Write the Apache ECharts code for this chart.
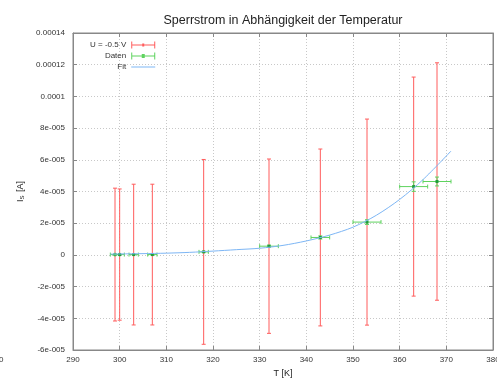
<!DOCTYPE html>
<html>
<head>
<meta charset="utf-8">
<script src="https://cdn.jsdelivr.net/npm/echarts@6/dist/echarts.min.js"></script>
<style>
  html, body { margin: 0; padding: 0; background: #fff; }
  #chart { width: 497px; height: 380px; }
</style>
</head>
<body>
<div id="chart"></div>
<script>
// Measurements: temperature T [K] and reverse current I_S [A]
var temps    = [299, 300, 303, 307, 318, 332, 343, 353, 363, 368];
var current  = [0.02e-5, 0.02e-5, 0.02e-5, 0.02e-5, 0.19e-5, 0.55e-5, 1.1e-5, 2.07e-5, 4.31e-5, 4.63e-5];
// error of the current at U = -0.5 V
var currentErrWide = [4.19e-5, 4.14e-5, 4.44e-5, 4.44e-5, 5.83e-5, 5.5e-5, 5.58e-5, 6.5e-5, 6.91e-5, 7.49e-5];
// temperature uncertainty and small current uncertainty of the "Daten" series
var tempErr  = [1, 1, 1, 1, 1, 2, 2, 3, 3, 3];
var currentErrSmall = [0.01e-5, 0.01e-5, 0.01e-5, 0.01e-5, 0.03e-5, 0.06e-5, 0.1e-5, 0.15e-5, 0.3e-5, 0.28e-5];

// Fit curve samples
var fitT = [298, 300, 305, 310, 315, 320, 325, 330, 335, 340, 345, 350, 355, 360, 365, 371];
var fitI = [0.05e-5, 0.06e-5, 0.08e-5, 0.11e-5, 0.16e-5, 0.24e-5, 0.33e-5, 0.42e-5, 0.6e-5, 0.88e-5, 1.25e-5, 1.75e-5, 2.5e-5, 3.5e-5, 4.75e-5, 6.55e-5];

// Axis tick labels
var yTickLabels = ['-6e-005', '-4e-005', '-2e-005', '0', '2e-005', '4e-005', '6e-005', '8e-005', '0.0001', '0.00012', '0.00014'];
var xTickLabels = ['290', '300', '310', '320', '330', '340', '350', '360', '370', '380'];

var Y_MIN = -6e-5, Y_MAX = 1.4e-4, Y_STEP = 2e-5;
var X_MIN = 290, X_MAX = 380, X_STEP = 10;

var RED = '#ff5c5c';
var GREEN = '#5fd35f';
var GREEN_DARK = '#1f9e3a';
var BLUE = '#7db6f5';
var FONT = '"Liberation Sans", Arial, sans-serif';

var redData = temps.map(function (t, i) { return [t, current[i], currentErrWide[i]]; });
var greenData = temps.map(function (t, i) { return [t, current[i], tempErr[i], currentErrSmall[i]]; });
var fitData = fitT.map(function (t, i) { return [t, fitI[i]]; });

function seg(x1, y1, x2, y2, color) {
  return { type: 'line', shape: { x1: x1, y1: y1, x2: x2, y2: y2 },
           style: { stroke: color, lineWidth: 1 } };
}

function renderYErr(params, api) {
  var x = api.value(0), y = api.value(1), e = api.value(2);
  var top = api.coord([x, y + e]);
  var bot = api.coord([x, y - e]);
  var c = api.coord([x, y]);
  var cap = 2;
  return { type: 'group', children: [
    seg(top[0], top[1], bot[0], bot[1], RED),
    seg(top[0] - cap, top[1], top[0] + cap, top[1], RED),
    seg(bot[0] - cap, bot[1], bot[0] + cap, bot[1], RED),
    { type: 'rect', shape: { x: c[0] - 1, y: c[1] - 1, width: 2, height: 2 }, style: { fill: RED } }
  ]};
}

function renderXYErr(params, api) {
  var x = api.value(0), y = api.value(1), ex = api.value(2), ey = api.value(3);
  var l = api.coord([x - ex, y]);
  var r = api.coord([x + ex, y]);
  var t = api.coord([x, y + ey]);
  var b = api.coord([x, y - ey]);
  var c = api.coord([x, y]);
  var cap = 2;
  return { type: 'group', children: [
    seg(l[0], l[1], r[0], r[1], GREEN),
    seg(l[0], l[1] - cap, l[0], l[1] + cap, GREEN),
    seg(r[0], r[1] - cap, r[0], r[1] + cap, GREEN),
    seg(t[0], t[1], b[0], b[1], GREEN),
    seg(t[0] - cap, t[1], t[0] + cap, t[1], GREEN),
    seg(b[0] - cap, b[1], b[0] + cap, b[1], GREEN),
    { type: 'rect', shape: { x: c[0] - 1.5, y: c[1] - 1.5, width: 3, height: 3 }, style: { fill: GREEN_DARK } }
  ]};
}

var chart = echarts.init(document.getElementById('chart'), null, { renderer: 'canvas' });

var axisLabelX = { fontFamily: FONT, fontSize: 8, color: '#333', margin: 6,
  formatter: function (v) { return xTickLabels[Math.round((v - X_MIN) / X_STEP)]; } };
var axisLabelY = { fontFamily: FONT, fontSize: 8, color: '#333', margin: 8,
  formatter: function (v) { return yTickLabels[Math.round((v - Y_MIN) / Y_STEP)]; } };

var option = {
  animation: false,
  backgroundColor: '#ffffff',
  title: {
    text: 'Sperrstrom in Abhängigkeit der Temperatur',
    left: 278, top: 9, textAlign: 'center',
    textStyle: { fontFamily: FONT, fontSize: 12.5, fontWeight: 'normal', color: '#222' }
  },
  legend: {
    orient: 'vertical', left: 85, top: 36, align: 'right',
    itemWidth: 24, itemHeight: 7, itemGap: 3,
    textStyle: { fontFamily: FONT, fontSize: 8, color: '#333', width: 60, align: 'right' },
    data: [
      { name: 'U = -0.5 V', icon: 'path://M0,3h24v1H0z M0,0h1v7H0z M23,0h1v7h-1z M11,2h2v3h-2z' },
      { name: 'Daten', icon: 'path://M0,3h24v1H0z M0,0h1v7H0z M23,0h1v7h-1z M10.5,1.5h3v4h-3z' },
      { name: 'Fit', icon: 'path://M0,3h24v1H0z' }
    ]
  },
  grid: { left: 73, right: 4, top: 33, bottom: 30, outerBoundsMode: 'none', containLabel: false,
          show: true, borderColor: '#888', borderWidth: 1, backgroundColor: 'transparent' },
  xAxis: [{
    type: 'value', min: X_MIN, max: X_MAX, interval: X_STEP, position: 'bottom',
    name: 'T [K]', nameLocation: 'middle', nameGap: 17,
    nameTextStyle: { fontFamily: FONT, fontSize: 9, color: '#222' },
    axisLine: { show: true, onZero: false, lineStyle: { color: '#888' } },
    axisTick: { show: true, inside: true, length: 4, lineStyle: { color: '#888' } },
    axisLabel: axisLabelX,
    splitLine: { show: true, lineStyle: { color: '#c8c8c8', type: [1, 2] } }
  }, {
    type: 'value', min: X_MIN, max: X_MAX, interval: X_STEP, position: 'top',
    axisLine: { show: true, onZero: false, lineStyle: { color: '#888' } },
    axisTick: { show: true, inside: true, length: 4, lineStyle: { color: '#888' } },
    axisLabel: { show: false }, splitLine: { show: false }
  }],
  yAxis: [{
    type: 'value', min: Y_MIN, max: Y_MAX, interval: Y_STEP, position: 'left',
    name: '{a|I}{s|S}{a| [A]}', nameLocation: 'middle', nameGap: 47,
    nameTextStyle: { fontFamily: FONT, color: '#222',
      rich: { a: { fontFamily: FONT, fontSize: 9, color: '#222' },
              s: { fontFamily: FONT, fontSize: 6, color: '#222', padding: [4, 1, 0, 0] } } },
    axisLine: { show: true, onZero: false, lineStyle: { color: '#888' } },
    axisTick: { show: true, inside: true, length: 4, lineStyle: { color: '#888' } },
    axisLabel: axisLabelY,
    splitLine: { show: true, lineStyle: { color: '#c8c8c8', type: [1, 2] } }
  }, {
    type: 'value', min: Y_MIN, max: Y_MAX, interval: Y_STEP, position: 'right',
    axisLine: { show: true, onZero: false, lineStyle: { color: '#888' } },
    axisTick: { show: true, inside: true, length: 4, lineStyle: { color: '#888' } },
    axisLabel: { show: false }, splitLine: { show: false }
  }],
  graphic: [
    { type: 'text', left: -1, top: 356, style: { text: '0', font: '8px ' + FONT, fill: '#333' } }
  ],
  series: [
    { name: 'U = -0.5 V', type: 'custom', renderItem: renderYErr, data: redData,
      itemStyle: { color: RED }, encode: { x: 0, y: 1 }, z: 2 },
    { name: 'Daten', type: 'custom', renderItem: renderXYErr, data: greenData,
      itemStyle: { color: GREEN }, encode: { x: 0, y: 1 }, z: 3 },
    { name: 'Fit', type: 'line', data: fitData, smooth: 0.3, showSymbol: false,
      lineStyle: { color: BLUE, width: 1 }, itemStyle: { color: BLUE }, z: 4 }
  ]
};

chart.setOption(option);
</script>
</body>
</html>
